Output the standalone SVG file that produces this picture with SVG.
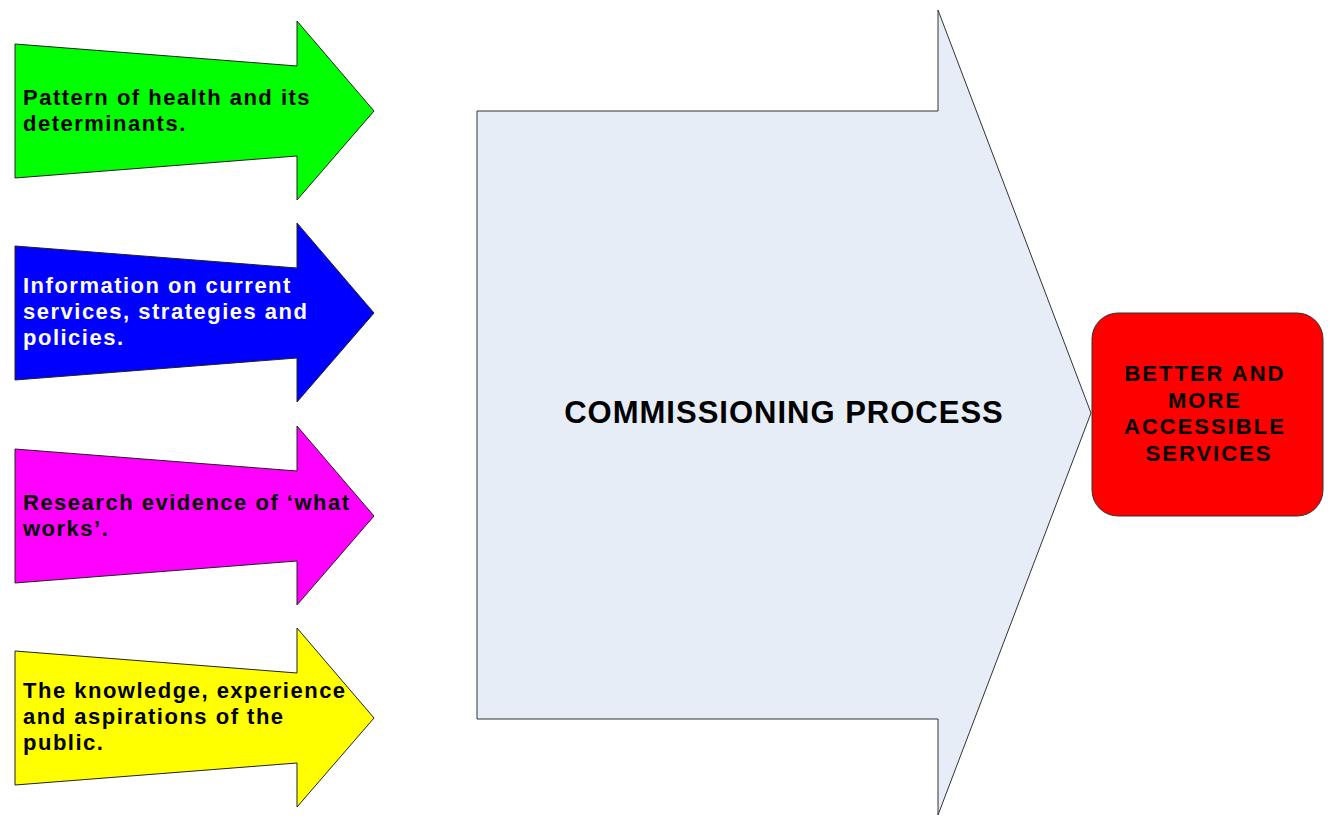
<svg xmlns="http://www.w3.org/2000/svg" width="1330" height="816" viewBox="0 0 1330 816">
<style>
.arr{stroke:#222;stroke-width:1}
.lbl{font-family:"Liberation Sans",Arial,sans-serif;font-weight:bold;font-size:22px;letter-spacing:1.5px}
.big{font-family:"Liberation Sans",Arial,sans-serif;font-weight:bold;font-size:31px;letter-spacing:1px}
.out{font-family:"Liberation Sans",Arial,sans-serif;font-weight:bold;font-size:22px;letter-spacing:2px}
</style>
<defs>
<path id="inArrow" d="M15,-67 L297,-45 L297,-90 L374,0 L297,89 L297,45 L15,67 Z"/>
</defs>
<rect width="1330" height="816" fill="#fff"/>
<g id="node-health">
<use href="#inArrow" transform="translate(0,111)" fill="#00FF00" class="arr"/>
<text class="lbl" fill="#000" x="23" y="105">Pattern of health and its</text>
<text class="lbl" fill="#000" x="23" y="131">determinants.</text>
</g>
<g id="node-info">
<use href="#inArrow" transform="translate(0,313)" fill="#0000FF" class="arr"/>
<text class="lbl" fill="#fff" x="23" y="293">Information on current</text>
<text class="lbl" fill="#fff" x="23" y="319">services, strategies and</text>
<text class="lbl" fill="#fff" x="23" y="345">policies.</text>
</g>
<g id="node-research">
<use href="#inArrow" transform="translate(0,516)" fill="#FF00FF" class="arr"/>
<text class="lbl" fill="#000" x="23" y="510">Research evidence of ‘what</text>
<text class="lbl" fill="#000" x="23" y="536">works’.</text>
</g>
<g id="node-public">
<use href="#inArrow" transform="translate(0,718)" fill="#FFFF00" class="arr"/>
<text class="lbl" fill="#000" x="23" y="698">The knowledge, experience</text>
<text class="lbl" fill="#000" x="23" y="724">and aspirations of the</text>
<text class="lbl" fill="#000" x="23" y="750">public.</text>
</g>
<g id="node-commissioning">
<path d="M477,111 L938,111 L938,10 L1091,413 L938,815 L938,719 L477,719 Z" fill="#E6EDF7" stroke="#333" stroke-width="1"/>
<text class="big" fill="#000" x="784" y="423" text-anchor="middle">COMMISSIONING PROCESS</text>
</g>
<g id="node-outcome">
<rect x="1092" y="313" width="231" height="203" rx="26" ry="26" fill="#FF0000" stroke="#333" stroke-width="1"/>
<text class="out" fill="#000" text-anchor="middle">
<tspan x="1209" y="381">BETTER AND</tspan>
<tspan x="1209" y="408">MORE</tspan>
<tspan x="1209" y="434">ACCESSIBLE</tspan>
<tspan x="1209" y="461">SERVICES</tspan>
</text>
</g>
<g id="connectors"></g>
</svg>
